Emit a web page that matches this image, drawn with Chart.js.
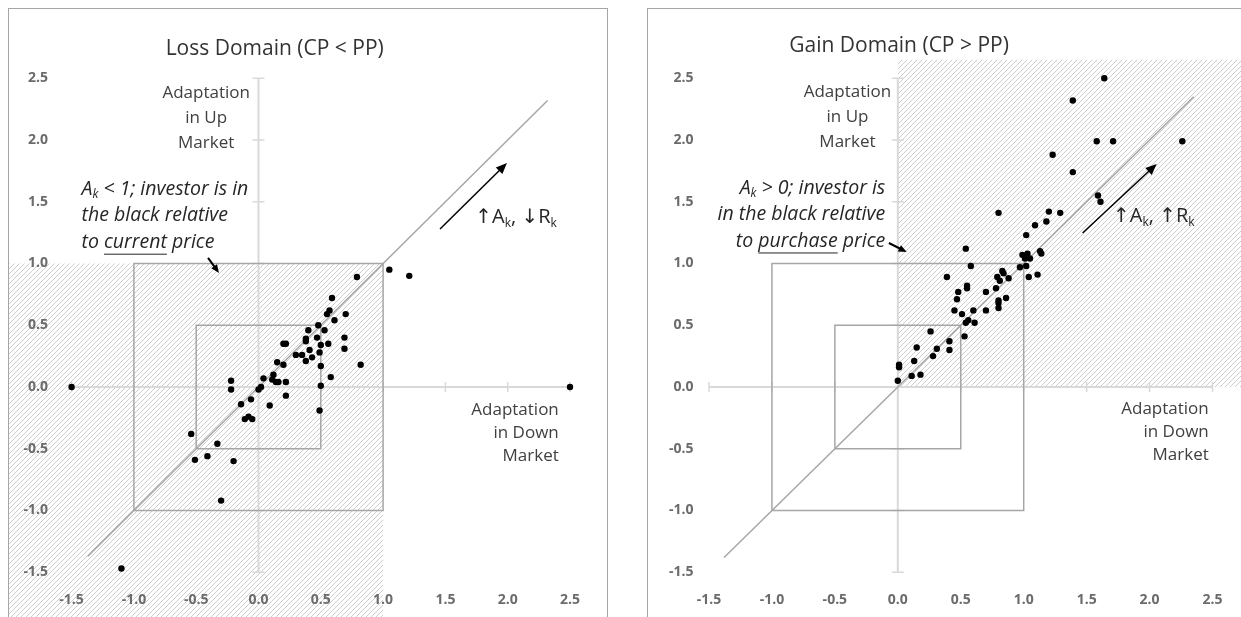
<!DOCTYPE html>
<html>
<head>
<meta charset="utf-8">
<title>Adaptation in up and down markets</title>
<script src="https://cdn.jsdelivr.net/npm/chart.js@4.4.1/dist/chart.umd.min.js"></script>
<style>
  html, body { margin: 0; padding: 0; background: #fff; width: 1241px; height: 617px; overflow: hidden; }
  .box { position: absolute; top: 8px; border: 1px solid #a6a6a6; background: #fff; overflow: hidden; }
  #boxLoss { left: 8px; width: 598px; height: 640px; }
  #boxGain { left: 647px; width: 620px; height: 640px; }
  canvas { display: block; }
</style>
</head>
<body>
<div class="box" id="boxLoss"><canvas id="lossChart" width="598" height="640"></canvas></div>
<div class="box" id="boxGain"><canvas id="gainChart" width="600" height="640"></canvas></div>

<script>
// tick labels (both axes, both panels)
const xTicks = [-1.5, -1.0, -0.5, 0.0, 0.5, 1.0, 1.5, 2.0, 2.5];
const yTicks = [-1.5, -1.0, -0.5, 0.0, 0.5, 1.0, 1.5, 2.0, 2.5];

// [adaptation in down market, adaptation in up market]
const lossPoints = [
  [1.05, 0.95], [1.21, 0.90], [0.79, 0.89], [0.59, 0.72], [0.57, 0.62], [0.55, 0.59],
  [0.70, 0.59], [0.61, 0.54], [0.48, 0.50], [0.40, 0.46], [0.53, 0.46], [0.38, 0.39],
  [0.38, 0.37], [0.47, 0.40], [0.69, 0.40], [0.56, 0.35], [0.50, 0.34], [0.69, 0.31],
  [0.41, 0.30], [0.49, 0.28], [0.30, 0.26], [0.35, 0.26], [0.43, 0.24], [0.38, 0.21],
  [0.50, 0.17], [0.82, 0.18], [0.58, 0.08], [0.50, 0.01], [0.49, -0.19],
  [0.20, 0.35], [0.22, 0.35], [0.15, 0.20], [0.20, 0.18], [0.12, 0.10], [0.04, 0.07],
  [0.11, 0.06], [0.14, 0.04], [0.16, 0.04], [0.22, 0.04], [-0.22, 0.05], [-0.22, -0.02],
  [0.02, 0.00], [0.00, -0.02], [-0.06, -0.10], [-0.14, -0.14], [0.09, -0.15], [0.22, -0.07],
  [-0.11, -0.26], [-0.08, -0.24], [-0.05, -0.26], [-0.54, -0.38], [-0.33, -0.46],
  [-0.51, -0.59], [-0.41, -0.56], [-0.20, -0.60], [-0.30, -0.92], [-1.10, -1.47],
  [-1.50, 0.00], [2.50, 0.00]
];

const gainPoints = [
  [0.00, 0.05], [0.11, 0.09], [0.18, 0.10], [0.01, 0.18], [0.01, 0.16], [0.13, 0.21],
  [0.28, 0.25], [0.15, 0.32], [0.31, 0.31], [0.41, 0.30], [0.41, 0.37], [0.26, 0.45],
  [0.53, 0.41], [0.54, 0.52], [0.56, 0.54], [0.61, 0.52], [0.45, 0.62], [0.51, 0.59],
  [0.60, 0.62], [0.70, 0.62], [0.47, 0.71], [0.48, 0.77], [0.70, 0.77], [0.55, 0.82],
  [0.55, 0.80], [0.39, 0.89], [0.58, 0.98], [0.54, 1.12], [0.80, 0.70], [0.80, 0.68],
  [0.80, 0.64], [0.86, 0.72], [0.78, 0.80], [0.83, 0.94], [0.84, 0.92], [0.79, 0.89],
  [0.81, 0.86], [0.88, 0.88], [1.04, 0.89], [1.11, 0.91], [0.97, 0.97], [1.02, 0.98],
  [0.99, 1.07], [1.03, 1.08], [1.01, 1.04], [1.05, 1.04], [1.13, 1.10], [1.14, 1.08],
  [1.02, 1.23], [1.09, 1.31], [1.18, 1.34], [1.20, 1.42], [1.29, 1.41], [0.80, 1.41],
  [1.23, 1.88], [1.39, 1.74], [1.39, 2.32], [1.64, 2.50], [1.58, 1.99], [1.71, 1.99],
  [2.26, 1.99], [1.59, 1.55], [1.61, 1.50]
];

// reference lines
const lossDiagonal = [[-1.37, -1.37], [2.32, 2.32]];
const gainDiagonal = [[-1.38, -1.38], [2.35, 2.35]];
const outerSquare = [[-1, -1], [1, -1], [1, 1], [-1, 1], [-1, -1]];
const innerSquare = [[-0.5, -0.5], [0.5, -0.5], [0.5, 0.5], [-0.5, 0.5], [-0.5, -0.5]];
const xAxisLine = [[-1.5, 0], [2.5, 0]];
const yAxisLine = [[0, -1.5], [0, 2.5]];

const FONT = '"Open Sans", "DejaVu Sans", sans-serif';
const toXY = arr => arr.map(([x, y]) => ({ x: x, y: y }));

function hatchPattern(ctx) {
  const c = document.createElement('canvas');
  c.width = 5; c.height = 5;
  const g = c.getContext('2d');
  g.fillStyle = '#ffffff';
  g.fillRect(0, 0, 5, 5);
  g.strokeStyle = '#cdcdcd';
  g.lineWidth = 1;
  g.beginPath();
  g.moveTo(-1, 6); g.lineTo(6, -1);
  g.moveTo(-1, 1); g.lineTo(1, -1);
  g.moveTo(4, 6); g.lineTo(6, 4);
  g.stroke();
  return ctx.createPattern(c, 'repeat');
}

// one line of text made of runs: {t, sub, u}
function drawRuns(ctx, runs, x, y, align, size, style, color) {
  const fontFor = r => `${style} ${r.sub ? Math.round(size * 0.62) : size}px ${FONT}`;
  let total = 0;
  runs.forEach(r => { ctx.font = fontFor(r); total += ctx.measureText(r.t).width; });
  let cx = align === 'right' ? x - total : align === 'center' ? x - total / 2 : x;
  ctx.fillStyle = color;
  ctx.textAlign = 'left';
  ctx.textBaseline = 'middle';
  runs.forEach(r => {
    ctx.font = fontFor(r);
    const w = ctx.measureText(r.t).width;
    ctx.fillText(r.t, cx, r.sub ? y + size * 0.28 : y);
    if (r.u) ctx.fillRect(cx, y + size * 0.58, w, 1);
    cx += w;
  });
}

function drawArrow(ctx, x1, y1, x2, y2, width, head) {
  const a = Math.atan2(y2 - y1, x2 - x1);
  ctx.save();
  ctx.strokeStyle = '#000';
  ctx.fillStyle = '#000';
  ctx.lineWidth = width;
  ctx.beginPath();
  ctx.moveTo(x1, y1);
  ctx.lineTo(x2 - Math.cos(a) * head * 0.8, y2 - Math.sin(a) * head * 0.8);
  ctx.stroke();
  ctx.beginPath();
  ctx.moveTo(x2, y2);
  ctx.lineTo(x2 - head * Math.cos(a - 0.4), y2 - head * Math.sin(a - 0.4));
  ctx.lineTo(x2 - head * Math.cos(a + 0.4), y2 - head * Math.sin(a + 0.4));
  ctx.closePath();
  ctx.fill();
  ctx.restore();
}

const overlay = {
  id: 'overlay',
  beforeDraw(chart, args, o) {
    const { ctx, chartArea, scales: { x, y } } = chart;
    const h = o.hatch;
    const l = h.xMin == null ? 0 : x.getPixelForValue(h.xMin);
    const r = h.xMax == null ? chart.width : x.getPixelForValue(h.xMax);
    const t = h.yMax == null ? chartArea.top : y.getPixelForValue(h.yMax);
    const b = h.yMin == null ? chart.height : y.getPixelForValue(h.yMin);
    ctx.save();
    ctx.fillStyle = hatchPattern(ctx);
    ctx.fillRect(l, t, r - l, b - t);
    ctx.restore();
  },
  beforeDatasetsDraw(chart) {
    // cross tick marks on the axes through the origin
    const { ctx, scales: { x, y } } = chart;
    const x0 = x.getPixelForValue(0), y0 = y.getPixelForValue(0);
    ctx.save();
    ctx.strokeStyle = '#d9d9d9';
    ctx.lineWidth = 1.5;
    ctx.beginPath();
    xTicks.forEach(v => { const px = x.getPixelForValue(v); ctx.moveTo(px, y0 - 5); ctx.lineTo(px, y0 + 5); });
    yTicks.forEach(v => { const py = y.getPixelForValue(v); ctx.moveTo(x0 - 6, py); ctx.lineTo(x0 + 6, py); });
    ctx.stroke();
    ctx.restore();
  },
  afterDatasetsDraw(chart, args, o) {
    const { ctx, scales: { x, y } } = chart;
    ctx.save();
    drawRuns(ctx, [{ t: o.title.text }], x.getPixelForValue(o.title.x), y.getPixelForValue(o.title.y),
      'center', 21, 'normal', '#333333');
    o.notes.forEach(n => {
      const px = x.getPixelForValue(n.x), py = y.getPixelForValue(n.y);
      n.lines.forEach((line, i) => {
        const runs = typeof line === 'string' ? [{ t: line }] : line;
        drawRuns(ctx, runs, px, py + i * n.lh, n.align, n.size, n.style, n.color);
      });
    });
    o.arrows.forEach(a => {
      drawArrow(ctx, x.getPixelForValue(a.from[0]), y.getPixelForValue(a.from[1]),
        x.getPixelForValue(a.to[0]), y.getPixelForValue(a.to[1]), a.width, a.head);
    });
    ctx.restore();
  }
};

function buildChart(canvasId, cfg) {
  const tickFont = { family: FONT, size: 14, weight: 'bold' };
  const lineSet = (label, pts, color, width) => ({
    label: label, data: toXY(pts), showLine: true, borderColor: color,
    borderWidth: width, pointRadius: 0, fill: false
  });
  return new Chart(document.getElementById(canvasId), {
    type: 'scatter',
    data: {
      datasets: [
        { label: 'investors', data: toXY(cfg.points), backgroundColor: '#000', borderColor: '#000',
          pointRadius: 3.2, pointBorderWidth: 0 },
        lineSet('diagonal', cfg.diagonal, '#a6a6a6', 1.5),
        lineSet('outer', outerSquare, '#a6a6a6', 1.5),
        lineSet('inner', innerSquare, '#a6a6a6', 1.5),
        lineSet('xaxis', xAxisLine, '#d9d9d9', 2),
        lineSet('yaxis', yAxisLine, '#d9d9d9', 2)
      ]
    },
    options: {
      responsive: false,
      animation: false,
      layout: { padding: cfg.padding },
      scales: {
        x: {
          type: 'linear', min: cfg.xMin, max: cfg.xMax,
          afterBuildTicks: a => { a.ticks = xTicks.map(v => ({ value: v })); },
          afterFit: a => { a.height = 30; },
          grid: { display: false, drawTicks: false },
          border: { display: false },
          ticks: { padding: 7, color: '#6b6b6b', font: tickFont, callback: v => v.toFixed(1) }
        },
        y: {
          type: 'linear', min: cfg.yMin, max: cfg.yMax,
          afterBuildTicks: a => { a.ticks = yTicks.map(v => ({ value: v })); },
          afterFit: a => { a.width = 40; },
          grid: { display: false, drawTicks: false },
          border: { display: false },
          ticks: { padding: cfg.yPad, color: '#6b6b6b', font: tickFont, callback: v => v.toFixed(1) }
        }
      },
      plugins: {
        legend: { display: false },
        tooltip: { enabled: false },
        overlay: cfg.overlay
      }
    },
    plugins: [overlay]
  });
}

buildChart('lossChart', {
  points: lossPoints,
  diagonal: lossDiagonal,
  xMin: -1.65, xMax: 2.75, yMin: -1.6, yMax: 2.65,
  padding: { left: 3.9, right: 5.85, top: 50.7, bottom: 34.4 },
  yPad: 5,
  overlay: {
    hatch: { xMax: 1, yMax: 1 },
    title: { text: 'Loss Domain (CP < PP)', x: 0.13, y: 2.74 },
    notes: [
      { lines: ['Adaptation', 'in Up', 'Market'], x: -0.42, y: 2.38, lh: 25, align: 'center',
        size: 17, style: 'normal', color: '#404040' },
      { lines: [[{ t: 'A' }, { t: 'k', sub: true }, { t: ' < 1; investor is in' }], 'the black relative',
                [{ t: 'to ' }, { t: 'current', u: true }, { t: ' price' }]],
        x: -1.42, y: 1.60, lh: 26.5, align: 'left', size: 19.5, style: 'italic', color: '#262626' },
      { lines: ['Adaptation', 'in Down', 'Market'], x: 2.41, y: -0.186, lh: 23, align: 'right',
        size: 17, style: 'normal', color: '#404040' },
      { lines: [[{ t: '\u2191A' }, { t: 'k', sub: true }, { t: ', \u2193R' }, { t: 'k', sub: true }]],
        x: 1.74, y: 1.37, lh: 0, align: 'left', size: 20, style: 'normal', color: '#262626' }
    ],
    arrows: [
      { from: [-0.405, 1.045], to: [-0.317, 0.923], width: 2, head: 9 },
      { from: [1.457, 1.279], to: [1.994, 1.814], width: 1.5, head: 12 }
    ]
  }
});

buildChart('gainChart', {
  points: gainPoints,
  diagonal: gainDiagonal,
  xMin: -1.6, xMax: 2.75, yMin: -1.6, yMax: 2.65,
  padding: { left: 8.4, right: 3.5, top: 50.7, bottom: 34.4 },
  yPad: 3,
  overlay: {
    hatch: { xMin: 0, yMin: 0 },
    title: { text: 'Gain Domain (CP > PP)', x: 0.01, y: 2.76 },
    notes: [
      { lines: ['Adaptation', 'in Up', 'Market'], x: -0.40, y: 2.39, lh: 25, align: 'center',
        size: 17, style: 'normal', color: '#404040' },
      { lines: [[{ t: 'A' }, { t: 'k', sub: true }, { t: ' > 0; investor is' }], 'in the black relative',
                [{ t: 'to ' }, { t: 'purchase', u: true }, { t: ' price' }]],
        x: -0.10, y: 1.61, lh: 26.5, align: 'right', size: 19.5, style: 'italic', color: '#262626' },
      { lines: ['Adaptation', 'in Down', 'Market'], x: 2.47, y: -0.18, lh: 23, align: 'right',
        size: 17, style: 'normal', color: '#404040' },
      { lines: [[{ t: '\u2191A' }, { t: 'k', sub: true }, { t: ', \u2191R' }, { t: 'k', sub: true }]],
        x: 1.71, y: 1.38, lh: 0, align: 'left', size: 20, style: 'normal', color: '#262626' }
    ],
    arrows: [
      { from: [-0.071, 1.166], to: [0.071, 1.093], width: 2, head: 9 },
      { from: [1.468, 1.247], to: [2.056, 1.806], width: 1.5, head: 12 }
    ]
  }
});
</script>
</body>
</html>
